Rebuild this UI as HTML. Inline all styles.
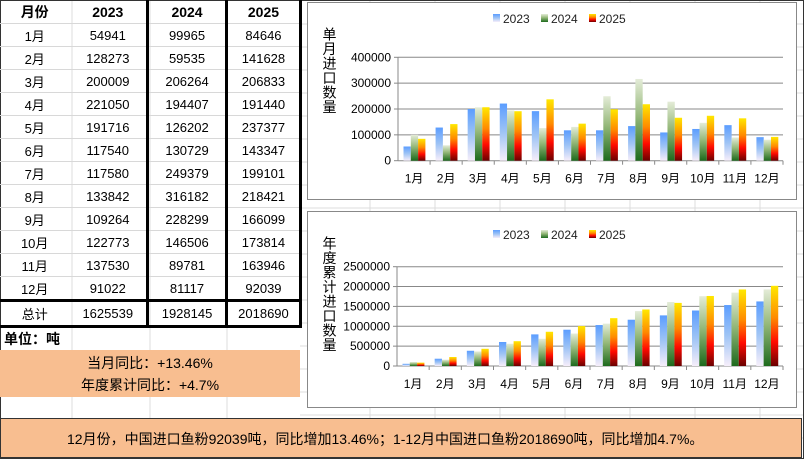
<!DOCTYPE html>
<html><head><meta charset="utf-8"><style>
body{margin:0;width:804px;height:459px;overflow:hidden;background:#fff;font-family:"Liberation Sans","Noto Sans CJK SC",sans-serif;position:relative}
.a{position:absolute}
table{position:absolute;left:0;top:0;border-collapse:collapse;font-size:13px}
td{height:22px;padding:0;text-align:center;border-bottom:1px solid #d8d8d8}
</style></head><body>
<svg class="a" style="left:0;top:0" width="804" height="459" id="bg"></svg>
<div id="tbl"></div>
<div class="a" style="left:4px;top:329px;font-size:14px;font-weight:bold">单位：吨</div>
<div class="a" style="left:0;top:350px;width:300px;height:47px;background:#f8be90;text-align:center;font-size:14px;line-height:22px;padding-top:2px;box-sizing:border-box">当月同比：+13.46%<br>年度累计同比：+4.7%</div>
<div class="a" style="left:0;top:418px;width:802px;height:40px;background:#f8be90;border:1px solid #333;font-size:14px;line-height:40px;padding-left:66px;box-sizing:border-box">12月份，中国进口鱼粉92039吨，同比增加13.46%；1-12月中国进口鱼粉2018690吨，同比增加4.7%。</div>
<svg class="a" style="left:0;top:0" width="804" height="459" id="ch"></svg>
<script>
const d23=[54941,128273,200009,221050,191716,117540,117580,133842,109264,122773,137530,91022];
const d24=[99965,59535,206264,194407,126202,130729,249379,316182,228299,146506,89781,81117];
const d25=[84646,141628,206833,191440,237377,143347,199101,218421,166099,173814,163946,92039];
let h='<table style="width:302px">';
h+='<tr style="font-weight:bold;font-size:14px"><td style="width:72px;height:23px">月份</td><td style="width:78px">2023</td><td style="width:77px;border-left:3px solid #000;border-right:3px solid #000">2024</td><td style="width:72px;border-right:3px solid #000">2025</td></tr>';
for(let i=0;i<12;i++){h+=`<tr><td>${i+1}月</td><td>${d23[i]}</td><td style="border-left:3px solid #000;border-right:3px solid #000">${d24[i]}</td><td style="border-right:3px solid #000">${d25[i]}</td></tr>`}
h+=`<tr style="border-top:3px solid #000;border-bottom:3px solid #000"><td style="height:23px">总计</td><td>1625539</td><td style="border-left:3px solid #000;border-right:3px solid #000">1928145</td><td style="border-right:3px solid #000">2018690</td></tr></table>`;
document.getElementById('tbl').innerHTML=h;
let bg='';
[72,150,227,370,435,500,565,630,695,760].forEach(x=>bg+=`<line x1="${x}" y1="0" x2="${x}" y2="459" stroke="#dcdcdc"/>`);
for(let y=24;y<459;y+=23)bg+=`<line x1="300" y1="${y}" x2="804" y2="${y}" stroke="#dcdcdc"/>`;
bg+=`<rect x="0.5" y="0.5" width="803" height="458" fill="none" stroke="#333"/>`;
document.getElementById('bg').innerHTML=bg;
const cum=a=>{let t=0;return a.map(v=>t+=v)};
let o=`<defs>
<linearGradient id="g1" x1="0" y1="0" x2="0" y2="1"><stop offset="0" stop-color="#5b9dff"/><stop offset="0.5" stop-color="#9fc4f5"/><stop offset="1" stop-color="#f6eefa"/></linearGradient>
<linearGradient id="g2" x1="0" y1="0" x2="0" y2="1"><stop offset="0" stop-color="#e4ecd8"/><stop offset="0.45" stop-color="#96b97a"/><stop offset="1" stop-color="#1d6a1d"/></linearGradient>
<linearGradient id="g3" x1="0" y1="0" x2="0" y2="1"><stop offset="0" stop-color="#ffe800"/><stop offset="0.4" stop-color="#ff8a00"/><stop offset="0.7" stop-color="#ff0a00"/><stop offset="1" stop-color="#6a0000"/></linearGradient></defs>`;
function chart(bx,by,bw,bh,x0,x1,y0,ytop,max,step,data,title,ly){
 o+=`<rect x="${bx}" y="${by}" width="${bw}" height="${bh}" fill="#fff" stroke="#888"/>`;
 for(let v=0;v<=max;v+=step){const y=y0-(y0-ytop)*v/max;
  if(v>0)o+=`<line x1="${x0}" y1="${y}" x2="${x1}" y2="${y}" stroke="#888"/>`;
  o+=`<line x1="${x0-4}" y1="${y}" x2="${x0}" y2="${y}" stroke="#888"/><text x="${x0-7}" y="${y+4}" font-size="12" text-anchor="end">${v}</text>`;}
 o+=`<line x1="${x0}" y1="${ytop}" x2="${x0}" y2="${y0}" stroke="#888"/><line x1="${x0}" y1="${y0}" x2="${x1}" y2="${y0}" stroke="#888"/>`;
 const gw=(x1-x0)/12;
 for(let i=0;i<12;i++){const gx=x0+gw*i;
  o+=`<line x1="${gx+gw}" y1="${y0}" x2="${gx+gw}" y2="${y0+4}" stroke="#888"/>`;
  data.forEach((a,k)=>{const hh=(y0-ytop)*a[i]/max;o+=`<rect x="${gx+5.5+k*7.3}" y="${y0-hh}" width="7.3" height="${hh}" fill="url(#g${k+1})"/>`});
  o+=`<text x="${gx+gw/2}" y="${y0+22}" font-size="12" text-anchor="middle">${i+1}月</text>`;}
 let ty=ytop-18;[...title].forEach((c,j)=>{o+=`<text x="${bx+22}" y="${ty+j*14.5}" font-size="14" text-anchor="middle">${c}</text>`});
 [['2023',493],['2024',541],['2025',589]].forEach((l,k)=>{o+=`<rect x="${l[1]}" y="${ly-5}" width="7" height="8" fill="url(#g${k+1})"/><text x="${l[1]+10}" y="${ly+4}" font-size="12" fill="#222">${l[0]}</text>`});
}
chart(307.5,2.5,489,197,398,783,160.7,57.3,400000,100000,[d23,d24,d25],'单月进口数量',19);
chart(307.5,211.5,489,196,397,783,366,266.7,2500000,500000,[cum(d23),cum(d24),cum(d25)],'年度累计进口数量',235);
document.getElementById('ch').innerHTML=o;
</script>
</body></html>
